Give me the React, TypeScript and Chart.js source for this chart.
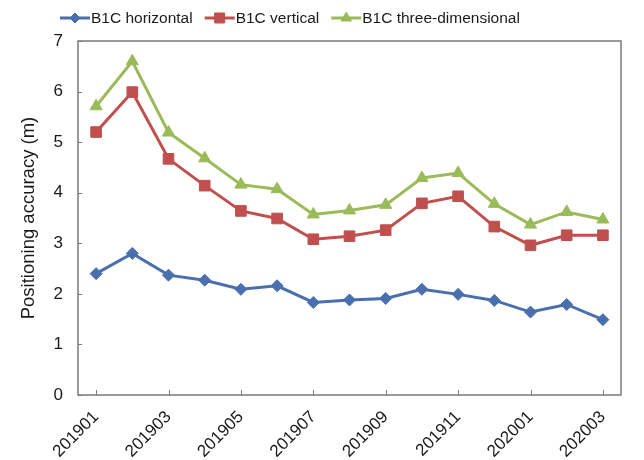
import React, { useEffect, useRef } from "react";
import { Chart, registerables } from "chart.js";

Chart.register(...registerables);

const months = [
  "201901", "201902", "201903", "201904", "201905", "201906", "201907", "201908",
  "201909", "201910", "201911", "201912", "202001", "202002", "202003",
];
const horizontal = [2.40, 2.80, 2.37, 2.27, 2.09, 2.16, 1.83, 1.88, 1.91, 2.09, 1.99, 1.87, 1.64, 1.79, 1.49];
const vertical = [5.20, 5.99, 4.67, 4.14, 3.64, 3.49, 3.08, 3.14, 3.26, 3.79, 3.93, 3.33, 2.96, 3.16, 3.16];
const threeDim = [5.71, 6.60, 5.19, 4.68, 4.16, 4.07, 3.57, 3.65, 3.76, 4.29, 4.39, 3.78, 3.37, 3.62, 3.47];
const seriesNames = ["B1C horizontal", "B1C vertical", "B1C three-dimensional"];
const yTicks = [0, 1, 2, 3, 4, 5, 6, 7];

const BLUE = "#4a6fae";
const RED = "#c0504d";
const GREEN = "#9bbb59";
const FONT = "'Liberation Sans', Arial, sans-serif";
const TEXT = "#1a1a1a";

// Plot frame with inward tick marks, plus a line-and-marker legend on top.
const framePlugin = {
  id: "frame",
  afterDraw(chart: any) {
    const { ctx, chartArea } = chart;
    const { left, right, top, bottom } = chartArea;
    const xs = chart.scales.x;
    const ys = chart.scales.y;
    ctx.save();
    ctx.strokeStyle = "#7a7a7a";
    ctx.lineWidth = 1.5;
    ctx.strokeRect(left, top, right - left, bottom - top);
    ctx.lineWidth = 1;
    ctx.beginPath();
    months.forEach((_, i) => {
      if (i % 2 !== 0) return;
      const px = Math.round(xs.getPixelForValue(i)) + 0.5;
      ctx.moveTo(px, bottom);
      ctx.lineTo(px, bottom - 5);
    });
    yTicks.forEach((v) => {
      const py = Math.round(ys.getPixelForValue(v)) + 0.5;
      ctx.moveTo(left, py);
      ctx.lineTo(left + 4, py);
    });
    ctx.stroke();

    // legend
    const y = 18;
    let x = 60;
    ctx.font = `15.5px ${FONT}`;
    ctx.textBaseline = "middle";
    ctx.textAlign = "left";
    chart.data.datasets.forEach((ds: any) => {
      const lineLen = 30;
      ctx.strokeStyle = ds.borderColor;
      ctx.lineWidth = 3;
      ctx.beginPath();
      ctx.moveTo(x, y);
      ctx.lineTo(x + lineLen, y);
      ctx.stroke();
      ctx.fillStyle = ds.pointBackgroundColor;
      ctx.strokeStyle = ds.borderColor;
      ctx.lineWidth = 1;
      const cx = x + lineLen / 2;
      ctx.beginPath();
      if (ds.pointStyle === "rectRot") {
        const r = 5;
        ctx.moveTo(cx - r, y);
        ctx.lineTo(cx, y - r);
        ctx.lineTo(cx + r, y);
        ctx.lineTo(cx, y + r);
        ctx.closePath();
      } else if (ds.pointStyle === "rect") {
        const s = 5;
        ctx.rect(cx - s, y - s, 2 * s, 2 * s);
      } else {
        const r = 6;
        ctx.moveTo(cx, y - r);
        ctx.lineTo(cx + r * 0.866, y + r * 0.5);
        ctx.lineTo(cx - r * 0.866, y + r * 0.5);
        ctx.closePath();
      }
      ctx.fill();
      ctx.stroke();
      ctx.fillStyle = TEXT;
      ctx.fillText(ds.label, x + lineLen + 1, y + 1);
      x += lineLen + 1 + ctx.measureText(ds.label).width + 12;
    });
    ctx.restore();
  },
};

export default function App() {
  const canvasRef = useRef<HTMLCanvasElement | null>(null);

  useEffect(() => {
    if (!canvasRef.current) return;
    const mk = (label: string, data: number[], color: string, style: string, radius: number) => ({
      label,
      data,
      borderColor: color,
      backgroundColor: color,
      pointBackgroundColor: color,
      pointBorderColor: color,
      pointStyle: style,
      pointRadius: radius,
      pointBorderWidth: 1,
      borderWidth: 3,
      tension: 0,
    });
    const chart = new Chart(canvasRef.current, {
      type: "line",
      data: {
        labels: months,
        datasets: [
          mk(seriesNames[0], horizontal, BLUE, "rectRot", 6),
          mk(seriesNames[1], vertical, RED, "rect", 7.5),
          mk(seriesNames[2], threeDim, GREEN, "triangle", 7),
        ],
      },
      options: {
        animation: false,
        responsive: false,
        layout: { padding: { top: 41, right: 23, left: 0, bottom: 0 } },
        plugins: {
          legend: { display: false },
          tooltip: { enabled: false },
        },
        scales: {
          x: {
            type: "category",
            offset: true,
            grid: { display: false },
            border: { display: false },
            afterFit: (scale: any) => {
              scale.height = 65;
            },
            ticks: {
              autoSkip: false,
              minRotation: 45,
              maxRotation: 45,
              padding: 4,
              color: TEXT,
              font: { family: FONT, size: 17 },
              callback: (_v: any, i: number) => (i % 2 === 0 ? months[i] : ""),
            },
          },
          y: {
            min: 0,
            max: 7,
            grid: { display: false },
            border: { display: false },
            afterFit: (scale: any) => {
              scale.width = 78;
            },
            ticks: {
              stepSize: 1,
              padding: 7,
              color: TEXT,
              font: { family: FONT, size: 17 },
            },
            title: {
              display: true,
              text: "Positioning accuracy (m)",
              color: TEXT,
              font: { family: FONT, size: 18.5 },
              padding: { top: 18, bottom: 0 },
            },
          },
        },
      },
      plugins: [framePlugin],
    } as any);
    return () => chart.destroy();
  }, []);

  return (
    <div style={{ position: "fixed", left: 0, top: 0, width: 644, height: 460, background: "#fff" }}>
      <canvas ref={canvasRef} width={644} height={460} />
    </div>
  );
}
